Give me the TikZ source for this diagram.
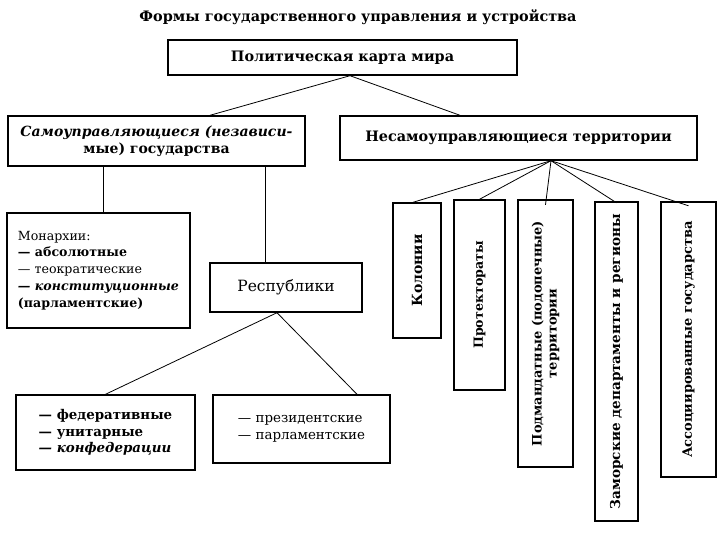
\documentclass[tikz,border=0pt]{standalone}
\usepackage{fontspec}
\setmainfont{DejaVu Serif}
\usetikzlibrary{calc}
\begin{document}
\begin{tikzpicture}[x=1pt,y=-1pt,
  box/.style={draw, line width=1.4pt, inner sep=2pt, align=center, font=\bfseries\fontsize{14.4}{17}\selectfont},
  vbox/.style={box, rotate=90, font=\bfseries\fontsize{13.6}{16}\selectfont},
  conn/.style={line width=0.8pt}]
\useasboundingbox (0,0) rectangle (720,540);
\node[font=\bfseries\fontsize{14.4}{17}\selectfont] (title) at (358,17) {Формы государственного управления и устройства};
\node[box, minimum width=349pt, minimum height=35pt] (pol) at (342.5,57.5) {Политическая карта мира};
\node[box, minimum width=297pt, minimum height=50pt, font=\bfseries\fontsize{14}{17}\selectfont] (sam) at (156.5,141) {\textit{Самоуправляющиеся (независи-}\\мые) государства};
\node[box, minimum width=357pt, minimum height=44pt] (nes) at (518.5,138) {Несамоуправляющиеся территории};
\node[box, minimum width=183pt, minimum height=115pt, align=left, font=\fontsize{12.6}{16.8}\selectfont] (mon) at (98.5,270.5) {Монархии:\\\textbf{— абсолютные}\\— теократические\\\textbf{\textit{— конституционные}}\\\textbf{(парламентские)}};
\node[box, minimum width=152pt, minimum height=49pt, font=\fontsize{15.5}{18}\selectfont] (rep) at (286,287.5) {Республики};
\node[box, minimum width=179pt, minimum height=75pt, align=left, font=\bfseries\fontsize{13.4}{16.5}\selectfont] (fed) at (105.5,432.5) {— федеративные\\— унитарные\\\textit{— конфедерации}};
\node[box, minimum width=177pt, minimum height=68pt, align=left, font=\fontsize{13.4}{16.5}\selectfont] (pre) at (301.5,429) {— президентские\\— парламентские};
\node[vbox, minimum width=135pt, minimum height=48pt, font=\bfseries\fontsize{14}{17}\selectfont] (kol) at (417,270.5) {Колонии};
\node[vbox, minimum width=190pt, minimum height=51pt, font=\bfseries\fontsize{12.6}{15}\selectfont] (pro) at (479.5,295) {Протектораты};
\node[vbox, minimum width=267pt, minimum height=55pt, font=\bfseries\fontsize{13}{15}\selectfont] (pod) at (545.5,333.5) {Подмандатные (подопечные)\\территории};
\node[vbox, minimum width=319pt, minimum height=43pt] (zam) at (616.5,361.5) {Заморские департаменты и регионы};
\node[vbox, minimum width=275pt, minimum height=55pt, font=\bfseries\fontsize{13}{15}\selectfont] (ass) at (688.5,339.5) {Ассоциированные государства};
\draw[conn] ([xshift=7.5pt]pol.south) -- ([xshift=53.5pt]sam.north);
\draw[conn] ([xshift=7.5pt]pol.south) -- ([xshift=-58.5pt]nes.north);
\draw[conn] ([xshift=-53.5pt]sam.south) -- ([xshift=4.5pt]mon.north);
\draw[conn] ([xshift=108.5pt]sam.south) -- ([xshift=-21pt]rep.north);
\draw[conn] ([xshift=-9pt]rep.south) -- (fed.north);
\draw[conn] ([xshift=-9pt]rep.south) -- ([xshift=55.5pt]pre.north);
\draw[conn] ([xshift=32.5pt]nes.south) -- ([xshift=-4pt]kol.east);
\draw[conn] ([xshift=32.5pt]nes.south) -- (pro.east);
\draw[conn] ([xshift=32.5pt]nes.south) -- ([yshift=-5.5pt]pod.east);
\draw[conn] ([xshift=32.5pt]nes.south) -- ([yshift=-1.5pt]zam.east);
\draw[conn] ([xshift=32.5pt]nes.south) -- ([yshift=-4.5pt]ass.east);
\end{tikzpicture}
\end{document}
